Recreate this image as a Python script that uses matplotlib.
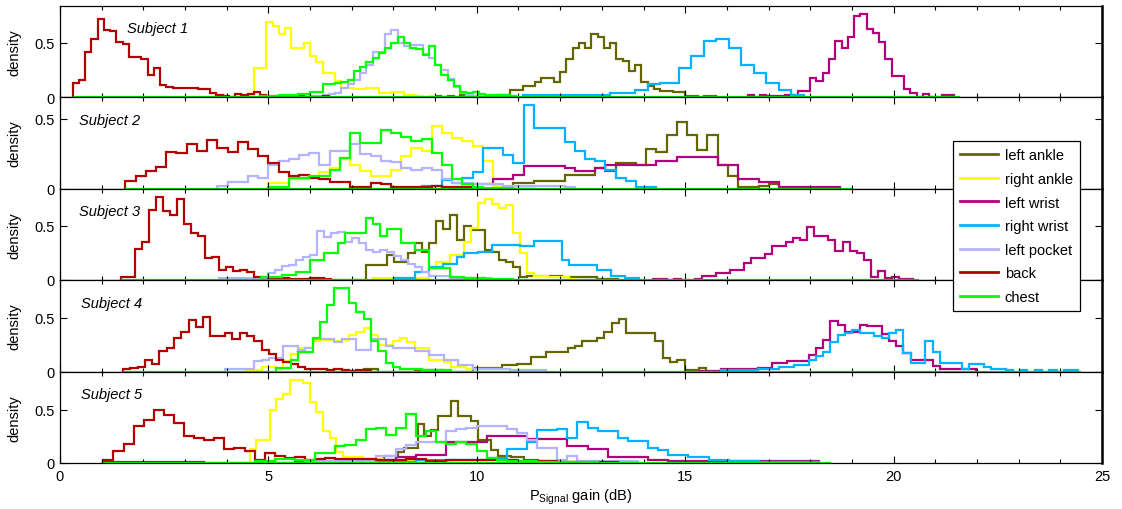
import numpy as np
import matplotlib
matplotlib.use('Agg')
import matplotlib.pyplot as plt
from matplotlib.lines import Line2D

plt.rcParams['font.family'] = ['Liberation Sans', 'DejaVu Sans']
plt.rcParams['mathtext.fontset'] = 'custom'
plt.rcParams['mathtext.rm'] = 'Liberation Sans'
plt.rcParams['mathtext.it'] = 'Liberation Sans:italic'

sensors = ['left ankle', 'right ankle', 'left wrist', 'right wrist', 'left pocket', 'back', 'chest']
colors = ['#666600', '#ffff00', '#b3007f', '#00b3ff', '#b3b3ff', '#b30000', '#00ff00']
subjects = ['Subject 1', 'Subject 2', 'Subject 3', 'Subject 4', 'Subject 5']
# range covered by the histogram bins of each subject (drawn as zero line)
spans = [(0.3, 21.6), (1.57, 19.0), (1.47, 20.6), (1.51, 24.5), (1.04, 18.5)]

# each entry: (first bin edge, bin width, density per bin), in sensor order
s1 = [
    (9.0, 0.15, [0.01, 0.0, 0.01, 0.0, 0.02, 0.0, 0.01, 0.0, 0.0, 0.01, 0.02, 0.02, 0.065, 0.065,
                 0.1, 0.1, 0.14, 0.18, 0.18, 0.14, 0.23, 0.35, 0.45, 0.5, 0.45, 0.58, 0.56, 0.45,
                 0.5, 0.35, 0.33, 0.24, 0.3, 0.14, 0.1, 0.07, 0.055, 0.055, 0.045, 0.045, 0.01,
                 0.01, 0.0, 0.01, 0.01]),
    (4.5, 0.15, [0.02, 0.27, 0.27, 0.69, 0.66, 0.58, 0.64, 0.45, 0.45, 0.5, 0.38, 0.32, 0.22,
                 0.22, 0.15, 0.08, 0.08, 0.07, 0.07, 0.08, 0.08, 0.04, 0.04, 0.045, 0.045, 0.02,
                 0.02, 0.01, 0.0, 0.01]),
    (16.5, 0.15, [0.02, 0.0, 0.02, 0.01, 0.01, 0.01, 0.02, 0.02, 0.055, 0.055, 0.18, 0.15, 0.22,
                  0.35, 0.52, 0.45, 0.56, 0.75, 0.77, 0.63, 0.59, 0.51, 0.35, 0.19, 0.19, 0.07,
                  0.035, 0.0, 0.03, 0.0, 0.0, 0.015, 0.015]),
    (11.1, 0.15, [0.02, 0.02, 0.02, 0.02, 0.02, 0.02, 0.02, 0.02, 0.02, 0.02, 0.02, 0.02, 0.02,
                  0.02, 0.04, 0.04, 0.04, 0.04, 0.065, 0.065, 0.12, 0.12, 0.13, 0.13, 0.13, 0.27,
                  0.27, 0.38, 0.38, 0.52, 0.52, 0.54, 0.54, 0.45, 0.45, 0.3, 0.3, 0.22, 0.22, 0.13,
                  0.13, 0.065, 0.065, 0.015, 0.015]),
    (6.0, 0.15, [0.01, 0.01, 0.02, 0.03, 0.04, 0.08, 0.12, 0.16, 0.22, 0.3, 0.42, 0.42, 0.58,
                 0.62, 0.5, 0.47, 0.48, 0.48, 0.4, 0.36, 0.3, 0.25, 0.17, 0.09, 0.04, 0.02, 0.01]),
    (0.3, 0.15, [0.13, 0.16, 0.42, 0.54, 0.72, 0.62, 0.61, 0.51, 0.49, 0.37, 0.37, 0.35, 0.2,
                 0.27, 0.11, 0.09, 0.08, 0.08, 0.08, 0.08, 0.07, 0.07, 0.04, 0.02, 0.01, 0.0,
                 0.03, 0.02, 0.03, 0.05, 0.02, 0.01, 0.01, 0.0, 0.0, 0.01, 0.01, 0.0, 0.0, 0.0,
                 0.01]),
    (4.8, 0.15, [0.01, 0.01, 0.01, 0.02, 0.02, 0.02, 0.03, 0.03, 0.05, 0.05, 0.12, 0.12, 0.13,
                 0.14, 0.16, 0.24, 0.28, 0.32, 0.36, 0.41, 0.45, 0.5, 0.56, 0.5, 0.45, 0.44, 0.39,
                 0.47, 0.3, 0.2, 0.16, 0.1, 0.05, 0.04, 0.05, 0.03, 0.02, 0.02, 0.02, 0.02, 0.01]),
]

s2 = [
    (10.88, 0.245, [0.04, 0.04, 0.053, 0.053, 0.053, 0.1, 0.1, 0.1, 0.148, 0.124, 0.184, 0.184,
                    0.17, 0.28, 0.26, 0.38, 0.476, 0.38, 0.275, 0.38, 0.17, 0.093, 0.01, 0.01,
                    0.017, 0.03, 0.005]),
    (5.0, 0.245, [0.04, 0.04, 0.07, 0.07, 0.09, 0.117, 0.148, 0.213, 0.17, 0.124, 0.093, 0.09,
                  0.136, 0.232, 0.29, 0.268, 0.447, 0.4, 0.364, 0.34, 0.304, 0.196, 0.02, 0.01,
                  0.01, 0.01]),
    (9.655, 0.245, [0.01, 0.03, 0.03, 0.07, 0.07, 0.1, 0.16, 0.16, 0.16, 0.16, 0.148, 0.124,
                    0.124, 0.148, 0.165, 0.165, 0.17, 0.17, 0.17, 0.196, 0.196, 0.227, 0.227,
                    0.227, 0.227, 0.165, 0.165, 0.065, 0.065, 0.045, 0.045, 0.01, 0.01, 0.01,
                    0.01, 0.01, 0.01]),
    (8.675, 0.245, [0.02, 0.02, 0.06, 0.04, 0.077, 0.117, 0.29, 0.29, 0.237, 0.184, 0.596, 0.43,
                    0.435, 0.43, 0.33, 0.27, 0.21, 0.196, 0.136, 0.077, 0.053, 0.012, 0.01]),
    (3.775, 0.245, [0.02, 0.045, 0.045, 0.093, 0.077, 0.165, 0.196, 0.21, 0.237, 0.256, 0.17,
                    0.268, 0.268, 0.316, 0.244, 0.232, 0.2, 0.19, 0.148, 0.13, 0.148, 0.13, 0.065,
                    0.04, 0.04, 0.03, 0.03, 0.03, 0.017, 0.017, 0.017, 0.017, 0.017, 0.017, 0.01]),
    (1.57, 0.245, [0.053, 0.093, 0.124, 0.153, 0.26, 0.256, 0.32, 0.27, 0.345, 0.29, 0.26, 0.335,
                   0.28, 0.23, 0.184, 0.117, 0.09, 0.1, 0.077, 0.065, 0.045, 0.045, 0.012, 0.012,
                   0.04, 0.03, 0.01, 0.01, 0.01, 0.01, 0.02, 0.01, 0.01, 0.01]),
    (5.0, 0.245, [0.01, 0.01, 0.077, 0.077, 0.09, 0.09, 0.136, 0.22, 0.4, 0.328, 0.328, 0.42,
                  0.4, 0.37, 0.34, 0.352, 0.256, 0.17, 0.07, 0.03, 0.012, 0.005, 0.005, 0.005]),
]

s3 = [
    (6.006, 0.168, [0.012, 0.012, 0, 0, 0, 0, 0, 0, 0.14, 0.14, 0.14, 0.23, 0.17, 0.17, 0.245,
                    0.34, 0.26, 0.34, 0.546, 0.47, 0.6, 0.37, 0.5, 0.46, 0.46, 0.28, 0.26, 0.18,
                    0.17, 0.12, 0.03, 0.037, 0.037, 0.037, 0.037, 0.037, 0.025, 0.025, 0.025,
                    0.025, 0.025, 0.005, 0.005, 0.005]),
    (7.518, 0.168, [0.018, 0.018, 0.018, 0.018, 0.018, 0.018, 0.018, 0.018, 0.107, 0.17, 0.17,
                    0.23, 0.23, 0.35, 0.475, 0.71, 0.75, 0.705, 0.66, 0.69, 0.43, 0.245, 0.06,
                    0.037, 0.037, 0.025, 0.025, 0.025, 0.01]),
    (14.238, 0.168, [0.01, 0.01, 0, 0.01, 0, 0, 0.01, 0.04, 0.04, 0.06, 0.06, 0.09, 0.09, 0.16,
                     0.2, 0.2, 0.24, 0.31, 0.31, 0.35, 0.39, 0.365, 0.49, 0.41, 0.41, 0.37, 0.27,
                     0.35, 0.27, 0.25, 0.18, 0.03, 0.08, 0.02, 0.03, 0.01, 0.01]),
    (8.022, 0.168, [0.02, 0.02, 0.02, 0.077, 0.077, 0.117, 0.117, 0.15, 0.15, 0.215, 0.25, 0.25,
                    0.26, 0.26, 0.32, 0.32, 0.32, 0.32, 0.31, 0.31, 0.36, 0.36, 0.36, 0.36, 0.18,
                    0.14, 0.14, 0.14, 0.14, 0.09, 0.09, 0.037, 0.037, 0.015, 0.015]),
    (3.822, 0.168, [0.015, 0.015, 0.015, 0.015, 0.015, 0.015, 0.015, 0.06, 0.09, 0.13, 0.14,
                    0.18, 0.215, 0.23, 0.45, 0.4, 0.435, 0.445, 0.35, 0.39, 0.34, 0.28, 0.26,
                    0.28, 0.26, 0.22, 0.18, 0.15, 0.12, 0.077, 0.037, 0.037, 0.037, 0.015, 0.015,
                    0.015, 0.015, 0.015, 0.015]),
    (1.47, 0.168, [0.025, 0.025, 0.29, 0.35, 0.65, 0.767, 0.64, 0.6, 0.75, 0.52, 0.435, 0.405,
                   0.2, 0.215, 0.092, 0.117, 0.083, 0.092, 0.077, 0.025, 0.025, 0.015, 0.015,
                   0.015, 0.005, 0.005, 0.005, 0.015, 0.015, 0.005]),
    (4.83, 0.168, [0.025, 0.025, 0.025, 0.046, 0.046, 0.077, 0.077, 0.18, 0.18, 0.25, 0.25, 0.34,
                   0.43, 0.435, 0.435, 0.57, 0.52, 0.41, 0.47, 0.47, 0.34, 0.34, 0.28, 0.28,
                   0.107, 0.107, 0.107, 0.025, 0.025, 0.015, 0.015, 0.015, 0.005, 0.005, 0.005,
                   0.005]),
]

s4 = [
    (7.285, 0.175, [0.027, 0.027, 0, 0, 0, 0, 0, 0.015, 0.015, 0.015, 0.015, 0, 0, 0, 0, 0.036,
                    0.036, 0.036, 0.036, 0.058, 0.058, 0.067, 0.067, 0.136, 0.136, 0.18, 0.18,
                    0.18, 0.22, 0.233, 0.28, 0.28, 0.31, 0.37, 0.45, 0.49, 0.355, 0.355, 0.355,
                    0.355, 0.28, 0.127, 0.088, 0.11, 0.015, 0.015, 0.033]),
    (4.485, 0.175, [0.01, 0.01, 0.045, 0.045, 0.02, 0.097, 0.167, 0.22, 0.22, 0.28, 0.29, 0.29,
                    0.28, 0.29, 0.34, 0.37, 0.4, 0.34, 0.25, 0.25, 0.28, 0.31, 0.27, 0.22, 0.22,
                    0.11, 0.11, 0.088, 0.045, 0.045, 0.02, 0.02, 0.02, 0.02, 0.02, 0.02, 0.01,
                    0.01, 0.01]),
    (15.335, 0.175, [0.005, 0.005, 0.005, 0.02, 0.02, 0.02, 0.02, 0.02, 0.03, 0.03, 0.077, 0.077,
                     0.1, 0.1, 0.1, 0.15, 0.215, 0.29, 0.47, 0.43, 0.37, 0.37, 0.43, 0.42, 0.42,
                     0.35, 0.28, 0.236, 0.175, 0.11, 0.11, 0.11, 0.052, 0.02, 0.02, 0.02, 0.02,
                     0.02]),
    (15.86, 0.175, [0.015, 0.015, 0.015, 0.015, 0.015, 0.02, 0.02, 0.02, 0.04, 0.04, 0.06, 0.06,
                    0.107, 0.145, 0.18, 0.27, 0.34, 0.36, 0.39, 0.36, 0.36, 0.33, 0.31, 0.36,
                    0.39, 0.175, 0.083, 0.083, 0.28, 0.18, 0.077, 0.077, 0.077, 0.02, 0.07, 0.07,
                    0.04, 0.02, 0.02, 0.01, 0, 0.01, 0, 0.01, 0, 0.01, 0, 0.01, 0.01]),
    (3.96, 0.175, [0.02, 0.02, 0.02, 0.02, 0.097, 0.11, 0.127, 0.127, 0.233, 0.233, 0.2, 0.22,
                   0.3, 0.3, 0.3, 0.27, 0.3, 0.3, 0.197, 0.197, 0.3, 0.3, 0.24, 0.22, 0.22, 0.22,
                   0.19, 0.19, 0.15, 0.15, 0.11, 0.11, 0.058, 0.058, 0.027, 0.027, 0.027, 0.027,
                   0.027, 0.015, 0.015, 0.015, 0.015, 0.015]),
    (1.51, 0.175, [0.02, 0.036, 0.045, 0.106, 0.067, 0.19, 0.22, 0.31, 0.37, 0.48, 0.415, 0.51,
                   0.33, 0.33, 0.36, 0.3, 0.355, 0.33, 0.28, 0.2, 0.158, 0.103, 0.088, 0.067,
                   0.042, 0.021, 0.021, 0.021, 0.01, 0.02, 0.01, 0.005, 0.01, 0.01]),
    (5.185, 0.175, [0.036, 0.036, 0.11, 0.18, 0.18, 0.31, 0.46, 0.62, 0.773, 0.773, 0.64, 0.55,
                    0.49, 0.28, 0.19, 0.08, 0.045, 0.02, 0.02, 0.02, 0.01, 0.01, 0.01, 0.01]),
]

s5 = [
    (7.46, 0.16, [0.03, 0.03, 0.07, 0.07, 0.1, 0.14, 0.14, 0.37, 0.256, 0.31, 0.44, 0.44, 0.58,
                  0.44, 0.44, 0.39, 0.22, 0.22, 0.125, 0.07, 0.07, 0.056, 0.056, 0.03, 0.03,
                  0.015, 0.015, 0.015, 0.015, 0.01, 0.01]),
    (4.55, 0.16, [0.13, 0.22, 0.22, 0.5, 0.6, 0.65, 0.775, 0.78, 0.75, 0.57, 0.48, 0.3, 0.234,
                  0.1, 0.056, 0.056, 0.056, 0.037, 0.037, 0.037, 0.015, 0.015, 0.015, 0.015,
                  0.015, 0.015, 0.01, 0.01, 0.01, 0.01]),
    (1.04, 0.242, [0.01, 0.01, 0.01, 0.01, 0.01, 0.01, 0.01, 0.01, 0.01, 0.01, 0, 0, 0, 0, 0, 0,
                   0, 0, 0, 0.02, 0.02, 0.02, 0.02, 0.02, 0.02, 0.03, 0.03, 0.03, 0.03, 0.056,
                   0.056, 0.078, 0.078, 0.078, 0.2, 0.2, 0.2, 0.2, 0.256, 0.256, 0.256, 0.256,
                   0.225, 0.225, 0.225, 0.225, 0.16, 0.16, 0.13, 0.13, 0.056, 0.056, 0.056, 0.056,
                   0.03, 0.03, 0.015, 0.015, 0.015, 0.015, 0.015, 0.015, 0.015, 0.015, 0.015,
                   0.015, 0.015, 0.015, 0.015, 0.015, 0.015]),
    (5.88, 0.242, [0.01, 0.01, 0.01, 0.01, 0.01, 0.01, 0.01, 0.01, 0.01, 0.01, 0.01, 0.025, 0.025,
                   0.025, 0.025, 0.025, 0.025, 0.025, 0.05, 0.05, 0.13, 0.13, 0.2, 0.31, 0.31,
                   0.32, 0.234, 0.38, 0.33, 0.3, 0.3, 0.234, 0.21, 0.21, 0.14, 0.12, 0.078, 0.078,
                   0.053, 0.053, 0.03, 0.03, 0.02, 0.02, 0.02, 0.01, 0.01, 0.01, 0.01, 0.01,
                   0.01]),
    (5.88, 0.242, [0.015, 0.015, 0.015, 0.015, 0.015, 0.015, 0.015, 0.07, 0.07, 0.13, 0.17, 0.2,
                   0.2, 0.2, 0.3, 0.32, 0.33, 0.35, 0.35, 0.35, 0.32, 0.28, 0.22, 0.14, 0.14,
                   0.03, 0.07, 0.02, 0.02, 0.02, 0.015, 0.015, 0.015]),
    (1.04, 0.242, [0.025, 0.11, 0.18, 0.35, 0.4, 0.5, 0.45, 0.375, 0.256, 0.234, 0.22, 0.234,
                   0.13, 0.14, 0.11, 0.03, 0.094, 0.07, 0.047, 0.056, 0.025, 0.037, 0.047, 0.037,
                   0.037, 0.037, 0.037, 0.025, 0.03, 0.03, 0.037, 0.037, 0.016, 0.016, 0.03, 0.03,
                   0.025, 0.025, 0.03, 0.03, 0.03, 0.022, 0.022, 0.022, 0.022, 0.01, 0.01, 0.01,
                   0.01, 0.01, 0.01]),
    (4.67, 0.242, [0.015, 0.015, 0.037, 0.037, 0.03, 0.03, 0.094, 0.094, 0.16, 0.17, 0.22, 0.32,
                   0.33, 0.266, 0.33, 0.46, 0.256, 0.3, 0.2, 0.18, 0.2, 0.18, 0.11, 0.047, 0.03,
                   0.015, 0.015, 0.015, 0.005, 0.005, 0.005, 0.005, 0.005, 0.005]),
]

all_subjects = [s1, s2, s3, s4, s5]
subject_text_x = [0.064, 0.018, 0.018, 0.02, 0.02]

fig = plt.figure(figsize=(11.22, 5.10), dpi=100)

W, H = 1122.0, 510.0
left_px, right_px = 60, 1102
top_px, panel_px = 6.5, 91.5

axes = []
for k, data in enumerate(all_subjects):
    bottom_px = top_px + panel_px * (k + 1)
    ax = fig.add_axes([left_px / W, 1 - bottom_px / H, (right_px - left_px) / W, panel_px / H])
    axes.append(ax)
    ymax = 0
    for i, (start, width, heights) in enumerate(data):
        edges = start + width * np.arange(len(heights) + 1)
        if sensors[i] == 'chest':
            ax.plot(spans[k], [0, 0], color=colors[i], lw=1.6, solid_capstyle='butt')
        ax.stairs(heights, edges, baseline=0, color=colors[i], lw=1.6)
        ymax = max(ymax, max(heights))
    ax.set_xlim(0, 25)
    ax.set_ylim(0, 1.1 * ymax)
    ax.set_xticks(range(0, 26, 5))
    ax.set_xticks(range(0, 26), minor=True)
    ax.set_yticks([0, 0.5])
    ax.set_yticklabels(['0', '0.5'])
    ax.tick_params(which='both', direction='in', top=True, right=True, labelsize=10.5,
                   width=0.8, pad=4)
    ax.tick_params(which='major', length=5)
    ax.tick_params(which='minor', length=3)
    if k < 4:
        ax.tick_params(labelbottom=False)
    for sp in ax.spines.values():
        sp.set_linewidth(0.9)
    ax.spines['right'].set_linewidth(1.8)
    ax.set_ylabel('density', fontsize=10.5)
    ax.yaxis.set_label_coords(-0.0374, 0.5)
    ax.text(subject_text_x[k], 0.75, subjects[k], transform=ax.transAxes, style='italic',
            va='center', ha='left', fontsize=10.5)

axes[-1].set_xlabel(r'P$_{\mathrm{Signal}}$ gain (dB)', fontsize=10.5, labelpad=3)

handles = [Line2D([0], [0], color=c, lw=2) for c in colors]
leg = fig.legend(handles, sensors, loc='upper left', bbox_to_anchor=(953 / W, 1 - 142 / H),
                 frameon=True, fancybox=False, edgecolor='black', framealpha=1, fontsize=10.5,
                 handlelength=2.6, handletextpad=0.45, labelspacing=0.66, borderpad=0.5,
                 borderaxespad=0)
leg.get_frame().set_linewidth(0.9)

fig.savefig('out.png', dpi=100)
